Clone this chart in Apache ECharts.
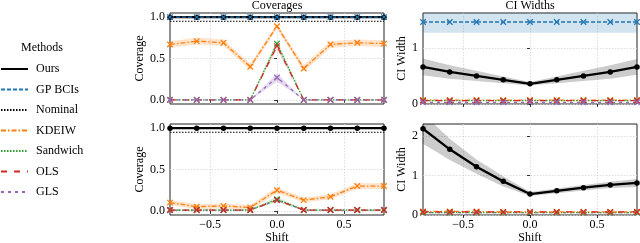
<!DOCTYPE html>
<html><head><meta charset="utf-8">
<script src="https://cdn.jsdelivr.net/npm/echarts@6/dist/echarts.min.js"></script>
<style>html,body{margin:0;padding:0;background:#fff}#c{width:640px;height:243px}</style>
</head><body><div id="c"></div>
<script>
// ---------- data ----------
const shifts = [-0.8, -0.6, -0.4, -0.2, 0, 0.2, 0.4, 0.6, 0.8];
const methods = ['Ours', 'GP BCIs', 'Nominal', 'KDEIW', 'Sandwich', 'OLS', 'GLS'];
const xTicks = [-0.5, 0, 0.5];
const covTicks = [0, 0.5, 1];
const widthTicksTop = [0, 1];
const widthTicksBottom = [0, 1, 2];
const nominalLevel = 0.95;

// top row: coverages
const covTopOurs     = [1, 1, 1, 1, 1, 1, 1, 1, 1];
const covTopGP       = [1, 1, 1, 1, 1, 1, 1, 1, 1];
const covTopKDEIW    = [0.67, 0.71, 0.69, 0.40, 0.89, 0.38, 0.67, 0.69, 0.68];
const covTopKDEIWErr = [0.04, 0.04, 0.04, 0.04, 0.03, 0.04, 0.04, 0.04, 0.04];
const covTopSandwich = [0, 0, 0, 0, 0.68, 0, 0, 0, 0];
const covTopOLS      = [0, 0, 0, 0, 0.65, 0, 0, 0, 0];
const covTopSmallErr = [0, 0, 0, 0, 0.04, 0, 0, 0, 0];
const covTopGLS      = [0, 0, 0, 0, 0.27, 0, 0, 0, 0];
const covTopGLSErr   = [0, 0, 0, 0, 0.05, 0, 0, 0, 0];

// top row: CI widths
const widTopOurs     = [0.66, 0.57, 0.50, 0.43, 0.36, 0.43, 0.50, 0.57, 0.66];
const widTopOursErr  = [0.15, 0.12, 0.09, 0.06, 0.03, 0.06, 0.09, 0.12, 0.14];
const widTopGP       = [1.46, 1.46, 1.46, 1.46, 1.46, 1.46, 1.46, 1.46, 1.46];
const widTopGPErr    = [0.19, 0.19, 0.19, 0.19, 0.19, 0.19, 0.19, 0.19, 0.19];
const widTopKDEIW    = [0.07, 0.07, 0.07, 0.07, 0.07, 0.07, 0.07, 0.07, 0.07];
const widTopSandwich = [0.06, 0.06, 0.06, 0.06, 0.06, 0.06, 0.06, 0.06, 0.06];
const widTopOLS      = [0.06, 0.06, 0.06, 0.06, 0.06, 0.06, 0.06, 0.06, 0.06];
const widTopGLS      = [0.03, 0.03, 0.03, 0.03, 0.03, 0.03, 0.03, 0.03, 0.03];

// bottom row: coverages
const covBotOurs     = [1, 1, 1, 1, 1, 1, 1, 1, 1];
const covBotKDEIW    = [0.10, 0.05, 0.06, 0.04, 0.25, 0.13, 0.17, 0.30, 0.30];
const covBotKDEIWErr = [0.03, 0.03, 0.03, 0.03, 0.035, 0.03, 0.03, 0.035, 0.035];
const covBotSandwich = [0.01, 0.01, 0.01, 0.01, 0.14, 0.01, 0.01, 0.01, 0.01];
const covBotOLS      = [0.01, 0.01, 0.01, 0.01, 0.13, 0.01, 0.01, 0.01, 0.01];
const covBotSmallErr = [0.01, 0.01, 0.01, 0.01, 0.03, 0.01, 0.01, 0.01, 0.01];
const covBotGLS      = [0.01, 0.01, 0.01, 0.01, 0.13, 0.01, 0.01, 0.01, 0.01];

// bottom row: CI widths
const widBotOurs     = [2.18, 1.66, 1.22, 0.85, 0.53, 0.61, 0.69, 0.76, 0.81];
const widBotOursErr  = [0.38, 0.27, 0.18, 0.13, 0.05, 0.06, 0.07, 0.08, 0.10];
const widBotKDEIW    = [0.09, 0.09, 0.09, 0.08, 0.08, 0.08, 0.08, 0.08, 0.08];
const widBotSandwich = [0.06, 0.06, 0.06, 0.06, 0.06, 0.06, 0.06, 0.06, 0.06];
const widBotOLS      = [0.08, 0.08, 0.08, 0.08, 0.08, 0.08, 0.08, 0.08, 0.08];
const widBotGLS      = [0.06, 0.06, 0.06, 0.06, 0.06, 0.06, 0.06, 0.06, 0.06];

// ---------- styling ----------
const FONT = 'Liberation Serif';
const X_MARK = 'path://M0,0L10,10M10,0L0,10';
const STY = {
  'Ours':     {color: '#000000', type: 'solid', width: 2.3, symbol: 'circle', size: 5.5},
  'GP BCIs':  {color: '#1f77b4', type: [4, 2], width: 1.3, symbol: X_MARK, size: 5.5},
  'Nominal':  {color: '#000000', type: [1.5, 1.5], width: 1.2, symbol: 'none', size: 0},
  'KDEIW':    {color: '#ff7f0e', type: [5, 2, 1.5, 2], width: 1.3, symbol: X_MARK, size: 5.5},
  'Sandwich': {color: '#2ca02c', type: [1.5, 1.5], width: 1.3, symbol: X_MARK, size: 5.5},
  'OLS':      {color: '#d62728', type: [6, 7], width: 1.3, symbol: X_MARK, size: 5.5},
  'GLS':      {color: '#9467bd', type: [3, 4], width: 1.3, symbol: X_MARK, size: 5.5}
};

function lineSeries(name, gi, ys) {
  const s = STY[name];
  return {
    type: 'line', name: name, xAxisIndex: gi, yAxisIndex: gi,
    data: shifts.map((x, i) => [x, ys[i]]),
    symbol: s.symbol, symbolSize: s.size, showSymbol: s.symbol !== 'none',
    lineStyle: {color: s.color, width: s.width, type: s.type},
    itemStyle: {color: s.color, borderColor: s.color, borderWidth: s.symbol === 'circle' ? 0 : 1.3, opacity: 1},
    emphasis: {disabled: true}, animation: false, z: 3
  };
}
function nominalSeries(gi) {
  return lineSeries('Nominal', gi, shifts.map(() => nominalLevel));
}
let bandId = 0;
function bandSeries(gi, ys, err, color) {
  const key = 'band' + (bandId++);
  const lo = ys.map((y, i) => y - err[i]);
  const hi = ys.map((y, i) => y + err[i]);
  return {
    type: 'custom', name: '_' + key, xAxisIndex: gi, yAxisIndex: gi,
    data: shifts.map((x, i) => [x, lo[i], hi[i]]),
    encode: {x: 0, y: [1, 2]},
    clip: true, silent: true, animation: false, z: 1,
    renderItem: function (params, api) {
      if (params.dataIndex !== 0) return null;
      const pts = [];
      for (let i = 0; i < shifts.length; i++) pts.push(api.coord([shifts[i], hi[i]]));
      for (let i = shifts.length - 1; i >= 0; i--) pts.push(api.coord([shifts[i], lo[i]]));
      const cs = params.coordSys;
      return {
        type: 'polygon', shape: {points: pts}, style: {fill: color, stroke: null},
        clipPath: {type: 'rect', shape: {x: cs.x, y: cs.y, width: cs.width, height: cs.height}}
      };
    }
  };
}

const fmt1 = v => (v < 0 ? '\u2212' : '') + Math.abs(v).toFixed(1);
const fmt0 = v => String(Math.round(v));
const tickText = {fontFamily: FONT, fontSize: 12, color: '#000'};

function xAxisCfg(gi, showLabels) {
  return {
    type: 'value', gridIndex: gi, min: -0.8, max: 0.8,
    axisLine: {show: false},
    axisTick: {show: true, inside: false, length: 3, customValues: xTicks, lineStyle: {color: '#000', width: 0.8}},
    axisLabel: Object.assign({show: showLabels, customValues: xTicks, formatter: fmt1, margin: 4}, tickText),
    splitLine: {show: true, lineStyle: {color: '#d6d6d6', type: [1.5, 1.5], width: 0.8}},
    name: showLabels ? 'Shift' : '', nameLocation: 'middle', nameGap: 15,
    nameTextStyle: {fontFamily: FONT, fontSize: 12, color: '#000'}
  };
}
function yAxisCfg(gi, min, max, ticks, fmt, name, gap) {
  return {
    type: 'value', gridIndex: gi, min: min, max: max,
    axisLine: {show: false},
    axisTick: {show: true, inside: false, length: 3, customValues: ticks, lineStyle: {color: '#000', width: 0.8}},
    axisLabel: Object.assign({customValues: ticks, formatter: fmt, margin: 5}, tickText),
    splitLine: {show: true, lineStyle: {color: '#d6d6d6', type: [1.5, 1.5], width: 0.8}},
    name: name, nameLocation: 'middle', nameGap: gap, nameRotate: 90,
    nameTextStyle: {fontFamily: FONT, fontSize: 12, color: '#000'}
  };
}
function gridCfg(left, top) {
  return {left: left, top: top, width: 214, height: 91, show: true, borderColor: '#222', borderWidth: 1,
    backgroundColor: '#fff', containLabel: false, outerBoundsMode: 'none'};
}

const series = [];
// grid 0: top-left coverages
series.push(bandSeries(0, covTopKDEIW, covTopKDEIWErr, 'rgba(255,127,14,0.22)'));
series.push(bandSeries(0, covTopSandwich, covTopSmallErr, 'rgba(44,160,44,0.18)'));
series.push(bandSeries(0, covTopOLS, covTopSmallErr, 'rgba(214,39,40,0.15)'));
series.push(bandSeries(0, covTopGLS, covTopGLSErr, 'rgba(148,103,189,0.25)'));
series.push(lineSeries('Ours', 0, covTopOurs));
series.push(lineSeries('GP BCIs', 0, covTopGP));
series.push(nominalSeries(0));
series.push(lineSeries('KDEIW', 0, covTopKDEIW));
series.push(lineSeries('Sandwich', 0, covTopSandwich));
series.push(lineSeries('OLS', 0, covTopOLS));
series.push(lineSeries('GLS', 0, covTopGLS));
// grid 1: top-right widths
series.push(bandSeries(1, widTopGP, widTopGPErr, 'rgba(31,119,180,0.2)'));
series.push(bandSeries(1, widTopOurs, widTopOursErr, 'rgba(0,0,0,0.2)'));
series.push(lineSeries('Ours', 1, widTopOurs));
series.push(lineSeries('GP BCIs', 1, widTopGP));
series.push(lineSeries('KDEIW', 1, widTopKDEIW));
series.push(lineSeries('Sandwich', 1, widTopSandwich));
series.push(lineSeries('OLS', 1, widTopOLS));
series.push(lineSeries('GLS', 1, widTopGLS));
// grid 2: bottom-left coverages
series.push(bandSeries(2, covBotKDEIW, covBotKDEIWErr, 'rgba(255,127,14,0.22)'));
series.push(bandSeries(2, covBotSandwich, covBotSmallErr, 'rgba(44,160,44,0.18)'));
series.push(lineSeries('Ours', 2, covBotOurs));
series.push(nominalSeries(2));
series.push(lineSeries('GLS', 2, covBotGLS));
series.push(lineSeries('KDEIW', 2, covBotKDEIW));
series.push(lineSeries('Sandwich', 2, covBotSandwich));
series.push(lineSeries('OLS', 2, covBotOLS));
// grid 3: bottom-right widths
series.push(bandSeries(3, widBotOurs, widBotOursErr, 'rgba(0,0,0,0.2)'));
series.push(lineSeries('Ours', 3, widBotOurs));
series.push(lineSeries('GLS', 3, widBotGLS));
series.push(lineSeries('Sandwich', 3, widBotSandwich));
series.push(lineSeries('KDEIW', 3, widBotKDEIW));
series.push(lineSeries('OLS', 3, widBotOLS));

const chart = echarts.init(document.getElementById('c'), null, {renderer: 'canvas'});
chart.setOption({
  animation: false,
  backgroundColor: '#fff',
  grid: [gridCfg(170, 13), gridCfg(423, 13), gridCfg(170, 124), gridCfg(423, 124)],
  xAxis: [xAxisCfg(0, false), xAxisCfg(1, false), xAxisCfg(2, true), xAxisCfg(3, true)],
  yAxis: [
    yAxisCfg(0, -0.05, 1.05, covTicks, fmt1, 'Coverage', 22),
    yAxisCfg(1, 0, 1.62, widthTicksTop, fmt0, 'CI Width', 13),
    yAxisCfg(2, -0.05, 1.05, covTicks, fmt1, 'Coverage', 22),
    yAxisCfg(3, 0, 2.3, widthTicksBottom, fmt0, 'CI Width', 13)
  ],
  legend: {
    data: methods, orient: 'vertical', left: 0, top: 63, padding: 0,
    itemWidth: 27, itemHeight: 2, itemGap: 8.5,
    itemStyle: {opacity: 0},
    textStyle: {fontFamily: FONT, fontSize: 12, color: '#000', padding: [0, 0, 0, 3]},
    selectedMode: false
  },
  graphic: [
    {type: 'text', x: 277, y: 6, style: {text: 'Coverages', align: 'center', verticalAlign: 'middle', font: '12px "Liberation Serif"', fill: '#000'}},
    {type: 'text', x: 530, y: 6, style: {text: 'CI Widths', align: 'center', verticalAlign: 'middle', font: '12px "Liberation Serif"', fill: '#000'}},
    {type: 'text', x: 42, y: 48, style: {text: 'Methods', align: 'center', verticalAlign: 'middle', font: '12px "Liberation Serif"', fill: '#000'}}
  ],
  series: series
});
</script>
</body></html>
